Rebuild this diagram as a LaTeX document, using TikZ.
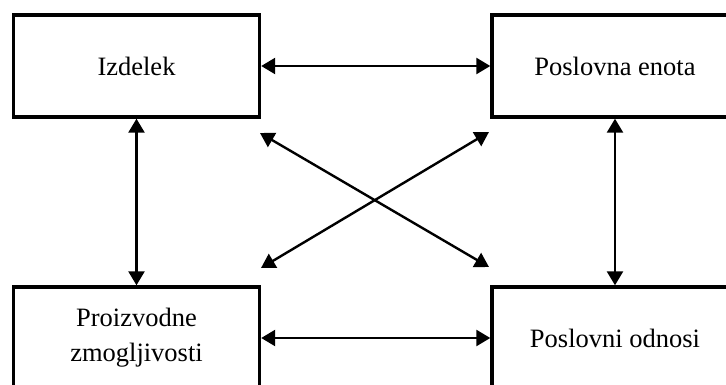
\documentclass[tikz,border=0pt]{standalone}
\usepackage{fontspec}
\setmainfont{Liberation Serif}
\usetikzlibrary{arrows.meta,calc}
\begin{document}
\begin{tikzpicture}[x=1pt,y=-1pt,
  block/.style={draw,line width=3.4pt,minimum width=246pt,minimum height=102pt,
    inner sep=0pt,align=center,font=\fontsize{26.5}{35}\selectfont},
  link/.style={line width=2.4pt,{Triangle[length=14pt,width=16pt]}-{Triangle[length=14pt,width=16pt]}}]
  \useasboundingbox (0,0) rectangle (726,385);
  \clip (0,0) rectangle (726,385);
  % four blocks
  \node[block] (izd) at (136.5,66) {Izdelek};
  \node[block] (pe)  at (615,66)   {Poslovna enota};
  \node[block] (pz)  at (136.5,338) {Proizvodne\\zmogljivosti};
  \node[block] (po)  at (615,338)  {Poslovni odnosi};
  % free ends of the crossing links
  \coordinate (d1a) at (260,133);
  \coordinate (d1b) at (489,267);
  \coordinate (d2a) at (261,268);
  \coordinate (d2b) at (489,132);
  % links
  \draw[link] (izd.east) -- (pe.west);
  \draw[link] (pz.east) -- (po.west);
  \draw[link] (izd.south) -- (pz.north);
  \draw[link] (pe.south) -- (po.north);
  \draw[link] (d1a) -- (d1b);
  \draw[link] (d2a) -- (d2b);
\end{tikzpicture}
\end{document}
